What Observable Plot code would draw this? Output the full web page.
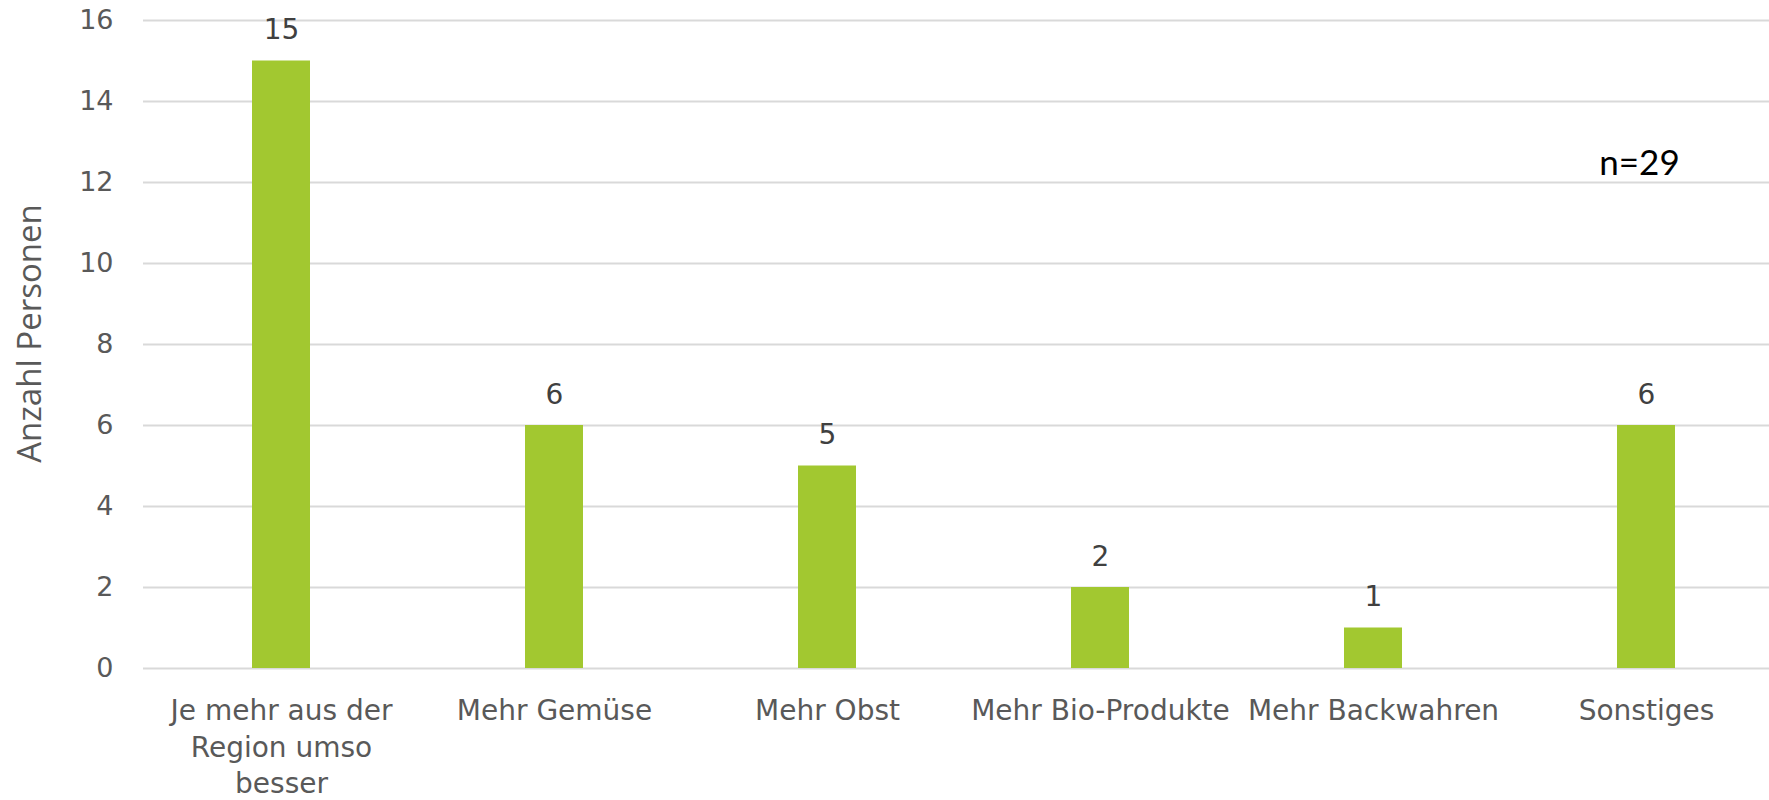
<!DOCTYPE html>
<html>
<head>
<meta charset="utf-8">
<script src="https://cdn.jsdelivr.net/npm/d3@7"></script>
<script src="https://cdn.jsdelivr.net/npm/@observablehq/plot@0.6"></script>
<style>
  html, body { margin: 0; padding: 0; background: #fff; }
  #chart svg { display: block; }
</style>
</head>
<body>
<div id="chart"></div>
<script>
// ---- data ----
const categories = ["Je mehr aus der Region umso besser", "Mehr Gemüse", "Mehr Obst", "Mehr Bio-Produkte", "Mehr Backwahren", "Sonstiges"];
const tickLabels = ["Je mehr aus der\nRegion umso\nbesser", "Mehr Gemüse", "Mehr Obst", "Mehr Bio-Produkte", "Mehr Backwahren", "Sonstiges"];
const values = [15, 6, 5, 2, 1, 6];
const yTicks = [0, 2, 4, 6, 8, 10, 12, 14, 16];
const yLabel = "Anzahl Personen";
const noteText = ["n=29"];
const noteCategory = ["Sonstiges"];
const noteValue = [12];

const data = categories.map((c, i) => ({category: c, value: values[i]}));
const notes = noteText.map((t, i) => ({label: t, category: noteCategory[i], value: noteValue[i]}));
const labelOf = new Map(categories.map((c, i) => [c, tickLabels[i]]));

const W = 1769, H = 800;
const mLeft = 143, mTop = 20, mBottom = 132;
const step = 273.6;
const pad = 0.788;

const chart = Plot.plot({
  width: W,
  height: H,
  marginLeft: mLeft,
  marginRight: 0,
  marginTop: mTop,
  marginBottom: mBottom,
  style: {fontFamily: "DejaVu Sans", background: "#fff", overflow: "visible"},
  x: {
    domain: categories,
    range: [mLeft, mLeft + step * categories.length],
    paddingInner: pad,
    paddingOuter: pad / 2,
    align: 0.5,
    axis: null
  },
  y: {domain: [0, 16], axis: null},
  marks: [
    Plot.ruleY(yTicks, {stroke: "#D9D9D9", strokeWidth: 2}),
    Plot.barY(data, {x: "category", y: "value", fill: "#A2C830"}),
    Plot.text(data, {x: "category", y: "value", text: d => String(d.value), lineAnchor: "bottom", dy: -22, fontSize: 28, fill: "#404040"}),
    Plot.axisY({ticks: yTicks, tickSize: 0, tickPadding: 30, fontSize: 27, color: "#595959", label: null}),
    Plot.axisX({tickSize: 0, tickPadding: 26, fontSize: 28, color: "#595959", lineHeight: 1.3, label: null, tickFormat: d => labelOf.get(d)}),
    Plot.text([yLabel], {frameAnchor: "left", textAnchor: "middle", lineAnchor: "middle", rotate: -90, dx: -113, dy: -11, text: d => d, fontSize: 33, fontFamily: "Open Sans", fill: "#595959"}),
    Plot.text(notes, {x: "category", y: "value", text: "label", lineAnchor: "bottom", dx: -7, dy: -8, fontSize: 35, fontFamily: "Lato", fill: "#000"})
  ]
});
document.getElementById("chart").appendChild(chart);
</script>
</body>
</html>
